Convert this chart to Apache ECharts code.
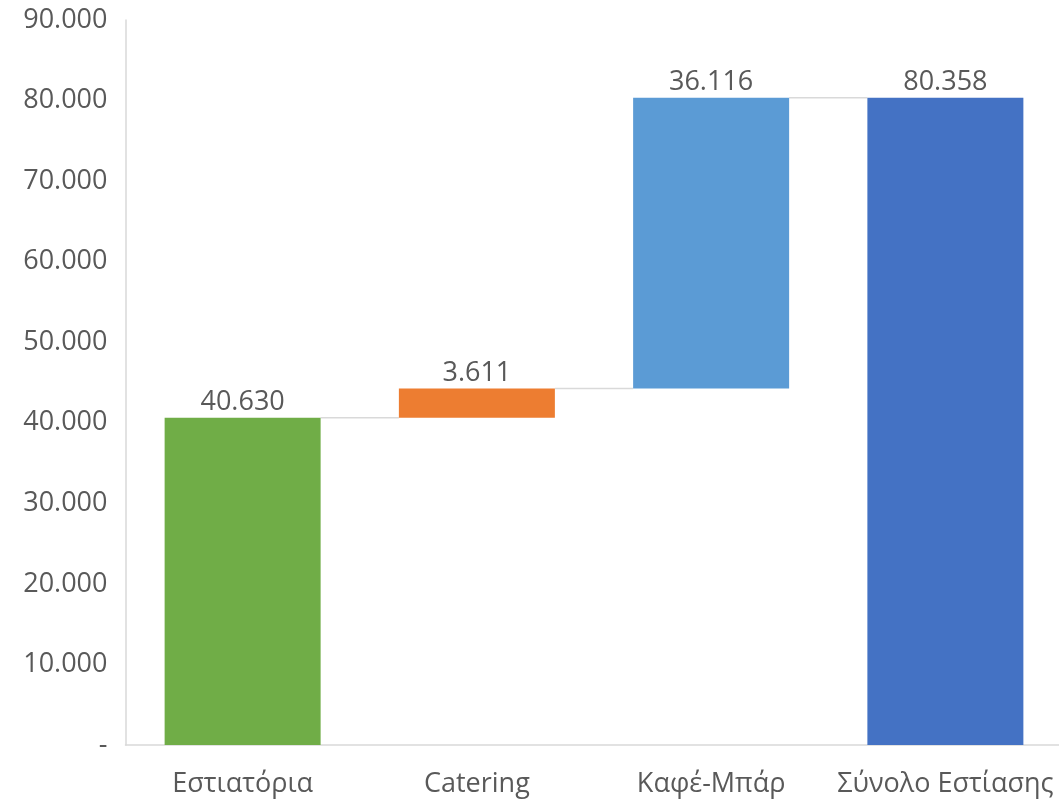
<!DOCTYPE html>
<html><head><meta charset="utf-8">
<script src="https://cdn.jsdelivr.net/npm/echarts@6/dist/echarts.min.js"></script>
<style>html,body{margin:0;padding:0;background:#fff;overflow:hidden}#c{width:1064px;height:801px}</style>
</head><body><div id="c"></div>
<script>
const categories = ['Εστιατόρια', 'Catering', 'Καφέ-Μπάρ', 'Σύνολο Εστίασης'];
const values = [40630, 3611, 36116, 80358];
const isTotal = [false, false, false, true];
const colors = ['#70ad47', '#ed7d31', '#5b9bd5', '#4472c4'];
const yTicks = { min: 0, max: 90000, interval: 10000 };

function fmt(v) { return v === 0 ? '-' : String(v).replace(/\B(?=(\d{3})+(?!\d))/g, '.'); }

// compute waterfall bases
const bases = []; const tops = [];
let run = 0;
values.forEach((v, i) => {
  if (isTotal[i]) { bases.push(0); tops.push(v); run = v; }
  else { bases.push(run); run += v; tops.push(run); }
});
const connectors = tops.slice(0, -1).map((t, i) => [i, t]);

const BAR_W = 156;
const FONT = 'Open Sans';
const chart = echarts.init(document.getElementById('c'));
chart.setOption({
  animation: false,
  grid: { left: 125.5, top: 20, width: 937, bottom: 56, containLabel: false },
  xAxis: {
    type: 'category', data: categories,
    axisLine: { lineStyle: { color: '#d9d9d9', width: 1.5 } },
    axisTick: { show: false },
    axisLabel: { color: '#595959', fontSize: 27, fontFamily: FONT, margin: 26, interval: 0 }
  },
  yAxis: {
    type: 'value', min: yTicks.min, max: yTicks.max, interval: yTicks.interval,
    axisLine: { show: true, lineStyle: { color: '#d9d9d9', width: 1.5 } },
    axisTick: { show: false },
    splitLine: { show: false },
    axisLabel: { color: '#595959', fontSize: 27, fontFamily: FONT, margin: 18, formatter: fmt }
  },
  series: [
    { type: 'bar', stack: 'w', data: bases, barWidth: BAR_W,
      itemStyle: { color: 'transparent' }, silent: true },
    { type: 'bar', stack: 'w', barWidth: BAR_W,
      data: values.map((v, i) => ({ value: v, itemStyle: { color: colors[i] } })),
      label: { show: true, position: 'top', distance: 2, color: '#595959', fontSize: 27,
               fontFamily: FONT, formatter: p => fmt(p.value) } },
    { type: 'custom', data: connectors, z: 1,
      renderItem: (params, api) => {
        const i = api.value(0), v = api.value(1);
        const p1 = api.coord([i, v]), p2 = api.coord([i + 1, v]);
        return { type: 'line',
          shape: { x1: p1[0] + BAR_W / 2, y1: p1[1], x2: p2[0] - BAR_W / 2, y2: p2[1] },
          style: { stroke: '#d9d9d9', lineWidth: 1.5 } };
      } }
  ]
});
</script></body></html>
